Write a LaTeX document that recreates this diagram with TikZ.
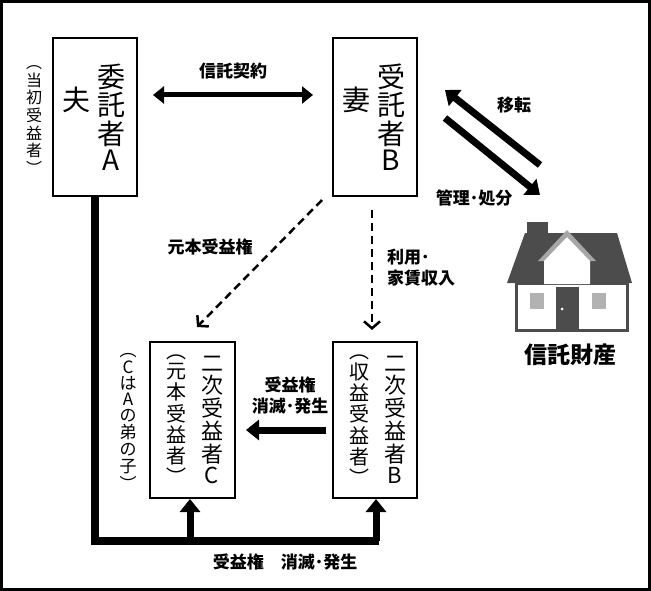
\documentclass[tikz,border=0pt]{standalone}
\usepackage{fontspec}
\newfontfamily\jp{Noto Sans CJK JP}
\usetikzlibrary{arrows.meta,positioning}
\tikzset{box/.style={draw,line width=1.2pt,fill=white},
  vtxt/.style={font=\jp,align=center,inner sep=0pt},
  fat/.style={line width=7pt,-{Triangle[length=13pt,width=20pt]}},
  lbl/.style={font=\jp\bfseries\fontsize{17}{21}\selectfont,align=center}}
\newcommand\vt[1]{\shortstack{#1}}
\begin{document}
\begin{tikzpicture}[x=1pt,y=-1pt]
    \draw[line width=3pt] (1.5,1.5) rectangle (649.5,589.5);
    \useasboundingbox (0,0) rectangle (651,591);
    % boxes
    \draw[box] (53,38) rectangle (137,196);
    \draw[box] (333,38) rectangle (417,196);
    \draw[box] (150,342) rectangle (235,498);
    \draw[box] (333,342) rectangle (417,498);
    \node[vtxt,font=\jp\fontsize{28}{28}\selectfont] (a) at (111,117) {\vt{委\\託\\者\\A}};
    \node[vtxt,font=\jp\fontsize{28}{28}\selectfont] (a2) at (76,100) {夫};
    \node[vtxt,font=\jp\fontsize{28}{28}\selectfont] (b) at (391,117) {\vt{受\\託\\者\\B}};
    \node[vtxt,font=\jp\fontsize{28}{28}\selectfont] (b2) at (356,100) {妻};
    \node[vtxt,font=\jp\fontsize{22}{22}\selectfont] (c) at (212,420) {\vt{二\\次\\受\\益\\者\\C}};
    \node[vtxt,font=\jp\fontsize{20}{20}\selectfont] (c2) at (176,420) {\vt{︵\\元\\本\\受\\益\\者\\︶}};
    \node[vtxt,font=\jp\fontsize{22}{22}\selectfont] (d) at (395,420) {\vt{二\\次\\受\\益\\者\\B}};
    \node[vtxt,font=\jp\fontsize{20}{20}\selectfont] (d2) at (359,420) {\vt{︵\\収\\益\\受\\益\\者\\︶}};
    \node[vtxt,font=\jp\fontsize{17}{17}\selectfont] (cnote) at (128,422) {\vt{︵\\C\\は\\A\\の\\弟\\の\\子\\︶}};
    \node[vtxt,font=\jp\fontsize{16}{16}\selectfont] (anote) at (34,120) {\vt{︵\\当\\初\\受\\益\\者\\︶}};
    % arrows
    \draw[line width=5pt,{Triangle[length=11pt,width=17pt]}-{Triangle[length=11pt,width=17pt]}] (153,95) -- node[lbl,above=10pt]{信託契約} (313,95);
    \draw[fat] (540,165) -- (445,90);
    \draw[fat] (445,118) -- (540,195);
    \node[lbl] at (514,105) {移転};
    \node[lbl] at (474,198) {管理･処分};
    \draw[line width=2.5pt,dash pattern=on 8pt off 5pt,-{Straight Barb[length=7pt,width=16pt,line width=2.5pt]}] (322,200) -- (197,327);
    \node[lbl] at (210,247) {元本受益権};
    \draw[line width=2.5pt,dash pattern=on 8pt off 5pt,-{Straight Barb[length=7pt,width=16pt,line width=2.5pt]}] (372,210) -- (372,330);
    \node[lbl,align=left] at (421,268) {利用･\\家賃収入};
    \draw[fat] (326,430) -- (246,430);
    \node[lbl] at (290,396) {受益権\\消滅･発生};
    \draw[line width=8pt] (95,196) -- (95,541) -- (379,541);
    \draw[fat] (190,541) -- (190,499);
    \draw[fat] (376,541) -- (376,499);
    \node[lbl] at (285,562) {受益権\quad 消滅･発生};
    % house
    \fill[black!70] (527,222) rectangle (548,245);
    \fill[black!70] (525,233) -- (617,233) -- (632,283) -- (507,283) -- cycle;
    \draw[black!70,line width=3pt,fill=white] (516,282) -- (516,330) -- (627,330) -- (627,282);
    \fill[black!70] (516,282) -- (627,282) -- (627,285) -- (516,285);
    \fill[black!35] (538,261) -- (567,230) -- (596,261) -- (590,261) -- (567,237) -- (544,261) -- cycle;
    \fill[white] (544,261) -- (567,237) -- (590,261) -- (590,284) -- (544,284) -- cycle;
    \fill[black!70] (556,287) rectangle (579,330);
    \fill[white] (562,309) circle (1.5);
    \fill[black!30] (530,293) rectangle (544,309);
    \fill[black!30] (592,293) rectangle (606,309);
    \node[lbl,font=\jp\bfseries\fontsize{23}{25}\selectfont] (prop) at (570,355) {信託財産};
\end{tikzpicture}
\end{document}
